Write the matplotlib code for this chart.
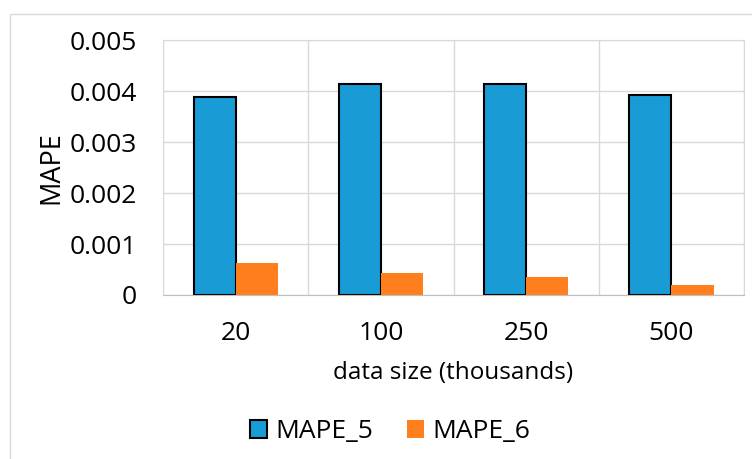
import numpy as np
import matplotlib.pyplot as plt
from matplotlib.patches import Rectangle

# MAPE for each data size (in thousands of rows)
sizes = ['20', '100', '250', '500']
mape_5 = [0.00388, 0.00415, 0.00415, 0.00392]
mape_6 = [0.00063, 0.00043, 0.00035, 0.00019]

plt.rcParams['font.family'] = ['Open Sans', 'DejaVu Sans']

fig = plt.figure(figsize=(7.52, 4.59), dpi=100)
ax = fig.add_axes([0.2168, 0.3573, 0.7726, 0.5545])

# light frame around the whole chart area
fig.patches.append(Rectangle((10/752, -0.1), 1.2, 0.1 + 1 - 14/459,
                             transform=fig.transFigure, fill=False,
                             edgecolor='#d9d9d9', lw=1.0, zorder=0))

x = np.arange(len(sizes))
w = 0.29
ax.bar(x - w/2, mape_5, w, color='#199bd6', edgecolor='black', lw=1.5,
       label='MAPE_5', zorder=3)
ax.bar(x + w/2, mape_6, w, color='#ff7f1f', lw=0, label='MAPE_6', zorder=3)

ax.set_xlim(-0.5, len(sizes) - 0.5)
ax.set_ylim(0, 0.005)
ax.set_yticks(np.arange(0, 0.0051, 0.001))
ax.set_yticklabels(['0', '0.001', '0.002', '0.003', '0.004', '0.005'])
ax.set_xticks(x)
ax.set_xticklabels(sizes)

# category separators and horizontal grid
for b in np.arange(-0.5, len(sizes), 1.0):
    ax.axvline(b, color='#d9d9d9', lw=1.0, zorder=1)
ax.yaxis.grid(True, color='#d9d9d9', lw=1.0, zorder=1)
ax.set_axisbelow(True)

for s in ['top', 'right', 'left']:
    ax.spines[s].set_color('#d9d9d9')
ax.spines['bottom'].set_color('#bfbfbf')
ax.spines['bottom'].set_zorder(4)
ax.tick_params(length=0, labelsize=19, colors='black')
ax.tick_params(axis='y', pad=19)
ax.tick_params(axis='x', pad=19)

ax.set_xlabel('data size (thousands)', fontsize=17.5)
ax.xaxis.set_label_coords(453/752, 1 - 373/459, transform=fig.transFigure)
ax.xaxis.label.set_verticalalignment('center')
ax.set_ylabel('MAPE', fontsize=19.5)
ax.yaxis.set_label_coords(51/752, 1 - 168/459, transform=fig.transFigure)
ax.yaxis.label.set_verticalalignment('center')

fig.legend(loc='center', bbox_to_anchor=(390/752, 1 - 432/459), ncol=2,
           frameon=False, fontsize=19, handlelength=0.65, handleheight=0.65,
           handletextpad=0.3, columnspacing=1.3)

plt.savefig('out.png', dpi=100)
